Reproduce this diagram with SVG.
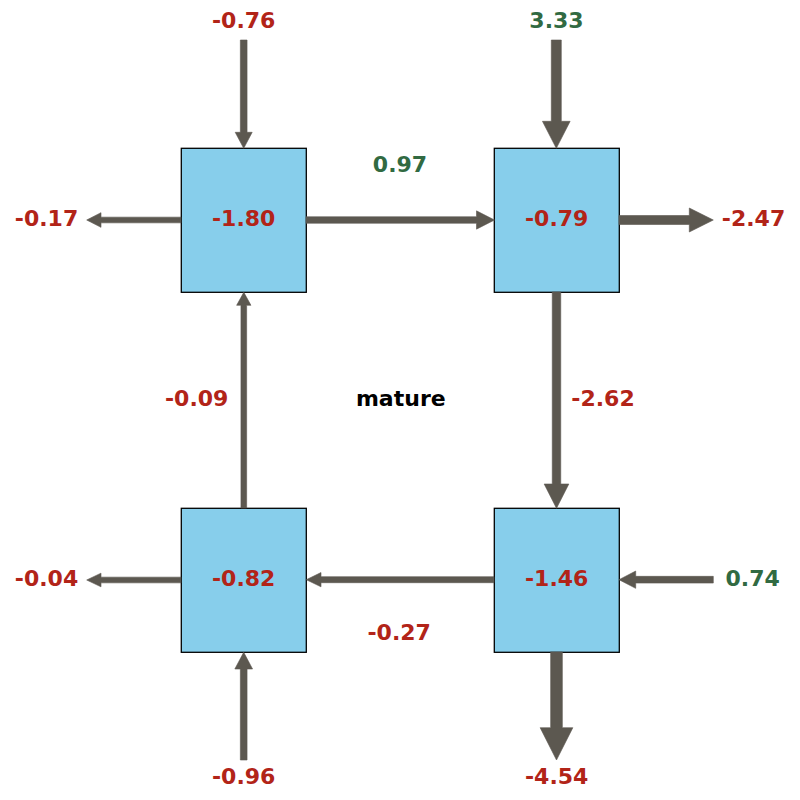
<svg xmlns="http://www.w3.org/2000/svg" width="800" height="800" viewBox="0 0 800 800">
<style>
.node{fill:#87ceeb;stroke:#000;stroke-width:1.3}
.arr{fill:#5c5850;stroke:#5c5850;stroke-width:0.6;stroke-linejoin:miter}
text{font-family:"DejaVu Sans",sans-serif;font-weight:bold;font-size:22px;text-anchor:middle}
.neg{fill:#b22418}
.pos{fill:#316a42}
.title{fill:#000}
</style>
<rect width="800" height="800" fill="#fff"/>
<g id="node-tl"><rect class="node" x="181.3" y="148.3" width="125" height="144"/><text class="neg" x="243.7" y="226">-1.80</text></g>
<g id="node-tr"><rect class="node" x="494.3" y="148.3" width="125" height="144"/><text class="neg" x="556.7" y="226">-0.79</text></g>
<g id="node-bl"><rect class="node" x="181.3" y="508.3" width="125" height="144"/><text class="neg" x="243.7" y="586">-0.82</text></g>
<g id="node-br"><rect class="node" x="494.3" y="508.3" width="125" height="144"/><text class="neg" x="556.7" y="586">-1.46</text></g>
<g id="connectors">
<polygon class="arr" points="240.35,40 247.05,40 247.05,132.3 252.2,132.3 243.7,148.3 235.2,132.3 240.35,132.3"/>
<polygon class="arr" points="551.3,40 561.3,40 561.3,121.3 570.15,121.3 556.3,148.3 542.45,121.3 551.3,121.3"/>
<polygon class="arr" points="181,217.15 101,217.15 101,212.65 86.7,220 101,227.35 101,222.85 181,222.85"/>
<polygon class="arr" points="619,215.5 689.3,215.5 689.3,208 713.3,220 689.3,232 689.3,224.5 619,224.5"/>
<polygon class="arr" points="306,216.75 476.5,216.75 476.5,210.85 494.5,220 476.5,229.15 476.5,223.25 306,223.25"/>
<polygon class="arr" points="552.25,292 560.75,292 560.75,484 568.85,484 556.5,508.3 544.15,484 552.25,484"/>
<polygon class="arr" points="240.95,508 246.65,508 246.65,305.3 250.95,305.3 243.8,292.3 236.65,305.3 240.95,305.3"/>
<polygon class="arr" points="494,576.7 321,576.7 321,572.55 306.3,579.7 321,586.85 321,582.7 494,582.7"/>
<polygon class="arr" points="713.3,576.35 635.7,576.35 635.7,571.05 619,579.7 635.7,588.35 635.7,583.05 713.3,583.05"/>
<polygon class="arr" points="181,577.15 101,577.15 101,573.15 86.7,580 101,586.85 101,582.85 181,582.85"/>
<polygon class="arr" points="240.35,760 247.05,760 247.05,669 252.55,669 243.7,652.3 234.85,669 240.35,669"/>
<polygon class="arr" points="550.65,652 562.35,652 562.35,727.7 572.85,727.7 556.5,760 540.15,727.7 550.65,727.7"/>
</g>
<g id="labels">
<text class="neg" x="243.7" y="28.3">-0.76</text>
<text class="pos" x="556.5" y="28.3">3.33</text>
<text class="neg" x="46.5" y="226">-0.17</text>
<text class="neg" x="753.5" y="226">-2.47</text>
<text class="pos" x="400" y="172.3">0.97</text>
<text class="neg" x="196.7" y="406">-0.09</text>
<text class="title" x="400.8" y="406">mature</text>
<text class="neg" x="603" y="406">-2.62</text>
<text class="neg" x="399.2" y="640">-0.27</text>
<text class="neg" x="46.5" y="586">-0.04</text>
<text class="pos" x="752.7" y="586">0.74</text>
<text class="neg" x="243.7" y="783.5">-0.96</text>
<text class="neg" x="556.7" y="784">-4.54</text>
</g>
</svg>
